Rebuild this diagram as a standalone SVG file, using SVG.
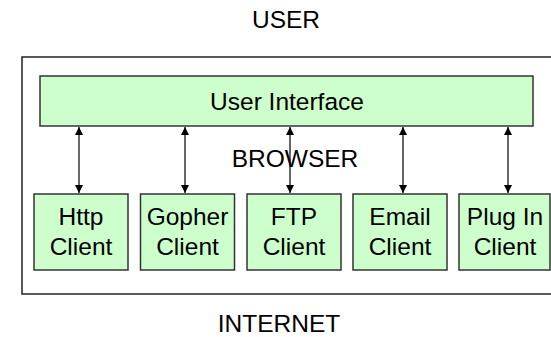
<svg xmlns="http://www.w3.org/2000/svg" width="551" height="337" viewBox="0 0 551 337">
  <style>
    .lbl { font-family: "Liberation Sans", Arial, sans-serif; font-size: 24.5px; fill: #000; text-anchor: middle; }
    .box { fill: #ccffcc; stroke: #333; stroke-width: 1.5; }
    .frame { fill: #fff; stroke: #222; stroke-width: 1.5; }
    .link { stroke: #000; stroke-width: 1.2; fill: none; marker-start: url(#head); marker-end: url(#head); }
  </style>
  <defs>
    <marker id="head" viewBox="0 0 10 10" refX="10" refY="5" markerWidth="8" markerHeight="9" markerUnits="userSpaceOnUse" orient="auto-start-reverse">
      <path d="M0,0 L10,5 L0,10 Z" fill="#000"/>
    </marker>
  </defs>

  <rect width="551" height="337" fill="#fff"/>

  <g id="user">
    <text class="lbl" x="286" y="28">USER</text>
  </g>

  <g id="browser">
    <rect class="frame" x="22" y="57" width="545" height="237"/>
    <text class="lbl" x="295" y="167">BROWSER</text>
  </g>

  <g id="internet">
    <text class="lbl" x="279" y="332">INTERNET</text>
  </g>

  <g id="user-interface">
    <rect class="box" x="40" y="76" width="493" height="50"/>
    <text class="lbl" x="287" y="110">User Interface</text>
  </g>

  <g id="connectors">
    <line class="link" x1="79" y1="127" x2="79" y2="193"/>
    <line class="link" x1="185" y1="127" x2="185" y2="193"/>
    <line class="link" x1="290" y1="127" x2="290" y2="193"/>
    <line class="link" x1="403" y1="127" x2="403" y2="193"/>
    <line class="link" x1="508" y1="127" x2="508" y2="193"/>
  </g>

  <g id="http-client">
    <rect class="box" x="34" y="194" width="94" height="76"/>
    <text class="lbl" x="81" y="225">Http</text>
    <text class="lbl" x="81" y="255">Client</text>
  </g>

  <g id="gopher-client">
    <rect class="box" x="140.5" y="194" width="94" height="76"/>
    <text class="lbl" x="187.5" y="225">Gopher</text>
    <text class="lbl" x="187.5" y="255">Client</text>
  </g>

  <g id="ftp-client">
    <rect class="box" x="247" y="194" width="94" height="76"/>
    <text class="lbl" x="294" y="225">FTP</text>
    <text class="lbl" x="294" y="255">Client</text>
  </g>

  <g id="email-client">
    <rect class="box" x="353" y="194" width="94" height="76"/>
    <text class="lbl" x="400" y="225">Email</text>
    <text class="lbl" x="400" y="255">Client</text>
  </g>

  <g id="plugin-client">
    <rect class="box" x="459" y="194" width="91" height="76"/>
    <text class="lbl" x="505" y="225">Plug In</text>
    <text class="lbl" x="505" y="255">Client</text>
  </g>
</svg>
